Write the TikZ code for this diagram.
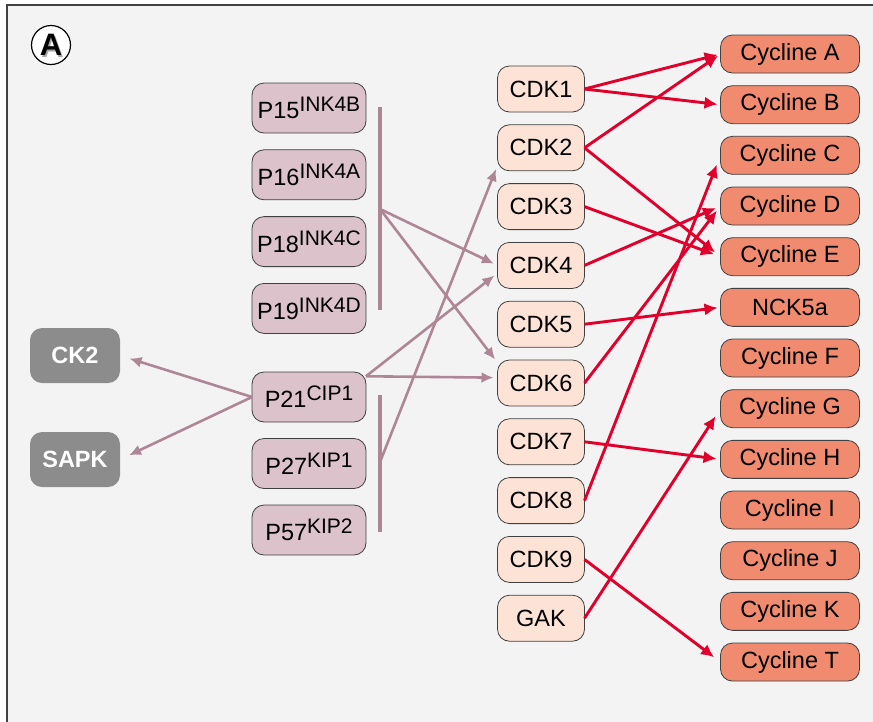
\documentclass[tikz,border=0pt]{standalone}
\usepackage{fontspec}
\setmainfont{Liberation Sans}
\usetikzlibrary{arrows.meta, positioning}

\definecolor{bgpanel}{HTML}{F3F3F3}
\definecolor{inhfill}{HTML}{DBC2CB}
\definecolor{cdkfill}{HTML}{FDE3D6}
\definecolor{cycfill}{HTML}{F08B70}
\definecolor{kinfill}{HTML}{8C8C8C}
\definecolor{mauve}{HTML}{AE8696}
\definecolor{crimson}{HTML}{E0002B}

\newcommand{\isup}[1]{\raisebox{7pt}{\fontsize{21}{21}\selectfont #1}}

\begin{document}
\begin{tikzpicture}[
    x=1pt, y=-1pt,
    box/.style={draw=black!75, line width=0.8pt, rounded corners=12pt,
                align=center, inner sep=0pt, outer sep=0pt,
                font=\fontsize{23.5}{26}\selectfont},
    inh/.style={box, fill=inhfill, minimum width=114pt, minimum height=50pt},
    cdk/.style={box, fill=cdkfill, minimum width=87pt, minimum height=46pt},
    cyc/.style={box, fill=cycfill, minimum width=139pt, minimum height=38pt},
    kin/.style={box, draw=none, fill=kinfill, text=white,
                font=\fontsize{23.5}{26}\selectfont\bfseries,
                minimum width=90pt, minimum height=55pt},
    bar/.style={draw=mauve, line width=4.5pt},
    reg/.style={-{Latex[length=12pt,width=11pt]}, line width=2.6pt, draw=mauve},
    bind/.style={-{Latex[length=13pt,width=12.5pt]}, line width=2.9pt, draw=crimson},
]
\useasboundingbox (0,0) rectangle (873,721);
\fill[white] (0,0) rectangle (873,721);
\begin{scope}
  \clip (0,0) rectangle (873,721);
  \draw[draw=black!75, line width=2pt, fill=bgpanel] (7,5) rectangle (890,740);
\end{scope}

% panel letter
\node[circle, draw=black, line width=1.2pt, fill=white, minimum size=39pt,
      inner sep=0pt] (panel) at (51,45) {};
\node[font=\fontsize{31}{31}\selectfont\bfseries, text=black!35] at (52.5,46.5) {A};
\node[font=\fontsize{31}{31}\selectfont\bfseries] at (panel) {A};

% inhibitors
\node[inh] (p15) at (309,108) {P15\isup{INK4B}};
\node[inh, below=16.8pt of p15] (p16) {P16\isup{INK4A}};
\node[inh, below=16.8pt of p16] (p18) {P18\isup{INK4C}};
\node[inh, below=16.8pt of p18] (p19) {P19\isup{INK4D}};
\node[inh] (p21) at (309,397) {P21\isup{CIP1}};
\node[inh, below=16.5pt of p21] (p27) {P27\isup{KIP1}};
\node[inh, below=16.5pt of p27] (p57) {P57\isup{KIP2}};

\node[kin] (ck2) at (75,355.5) {CK2};
\node[kin] (sapk) at (75,459.5) {SAPK};

% kinases
\node[cdk] (cdk1) at (541,89) {CDK1};
\node[cdk, below=12.8pt of cdk1] (cdk2) {CDK2};
\node[cdk, below=12.8pt of cdk2] (cdk3) {CDK3};
\node[cdk, below=12.8pt of cdk3] (cdk4) {CDK4};
\node[cdk, below=12.8pt of cdk4] (cdk5) {CDK5};
\node[cdk, below=12.8pt of cdk5] (cdk6) {CDK6};
\node[cdk, below=12.8pt of cdk6] (cdk7) {CDK7};
\node[cdk, below=12.8pt of cdk7] (cdk8) {CDK8};
\node[cdk, below=12.8pt of cdk8] (cdk9) {CDK9};
\node[cdk, below=12.8pt of cdk9] (gak) {GAK};

% cyclines
\node[cyc] (cycA) at (790,54) {Cycline A};
\node[cyc, below=12.67pt of cycA] (cycB) {Cycline B};
\node[cyc, below=12.67pt of cycB] (cycC) {Cycline C};
\node[cyc, below=12.67pt of cycC] (cycD) {Cycline D};
\node[cyc, below=12.67pt of cycD] (cycE) {Cycline E};
\node[cyc, below=12.67pt of cycE] (nck) {NCK5a};
\node[cyc, below=12.67pt of nck] (cycF) {Cycline F};
\node[cyc, below=12.67pt of cycF] (cycG) {Cycline G};
\node[cyc, below=12.67pt of cycG] (cycH) {Cycline H};
\node[cyc, below=12.67pt of cycH] (cycI) {Cycline I};
\node[cyc, below=12.67pt of cycI] (cycJ) {Cycline J};
\node[cyc, below=12.67pt of cycJ] (cycK) {Cycline K};
\node[cyc, below=12.67pt of cycK] (cycT) {Cycline T};

% group bars
\coordinate (inkTop) at (380,107);
\coordinate (inkBot) at (380,310);
\coordinate (inkMid) at (380,209);
\coordinate (kipTop) at (380,395);
\coordinate (kipBot) at (380,532);
\coordinate (kipMid) at (380,462);
\draw[bar] (inkTop) -- (inkBot);
\draw[bar] (kipTop) -- (kipBot);

% inhibition
\draw[reg, shorten >=4pt] (inkMid) -- (cdk4.west);
\draw[reg, shorten >=4pt] (inkMid) -- (cdk6.155);
\draw[reg, shorten >=4pt] (p21.20) -- (cdk4.190);
\draw[reg, shorten >=4pt] (p21.20) -- (cdk6.173);
\draw[reg, shorten >=4pt] (kipMid) -- (cdk2.202);
\draw[reg, shorten >=10pt] (p21.west) -- (ck2.east);
\draw[reg, shorten >=10pt] (p21.west) -- (sapk.east);

% binding
\draw[bind, shorten >=3pt] (cdk1.east) -- (cycA.west);
\draw[bind, shorten >=3pt] (cdk1.east) -- (cycB.west);
\draw[bind, shorten >=3pt] (cdk2.east) -- (cycA.west);
\draw[bind, shorten >=7pt] (cdk2.east) -- (cycE.west);
\draw[bind, shorten >=7pt] (cdk3.east) -- (cycE.west);
\draw[bind, shorten >=5pt] (cdk4.east) -- (cycD.west);
\draw[bind, shorten >=3pt] (cdk5.east) -- (nck.west);
\draw[bind, shorten >=6pt] (cdk6.east) -- (cycD.west);
\draw[bind, shorten >=4pt] (cdk7.east) -- (cycH.west);
\draw[bind, shorten >=10pt] (cdk8.east) -- (cycC.west);
\draw[bind, shorten >=8pt] (cdk9.east) -- (cycT.west);
\draw[bind, shorten >=9pt] (gak.east) -- (cycG.west);
\end{tikzpicture}
\end{document}
